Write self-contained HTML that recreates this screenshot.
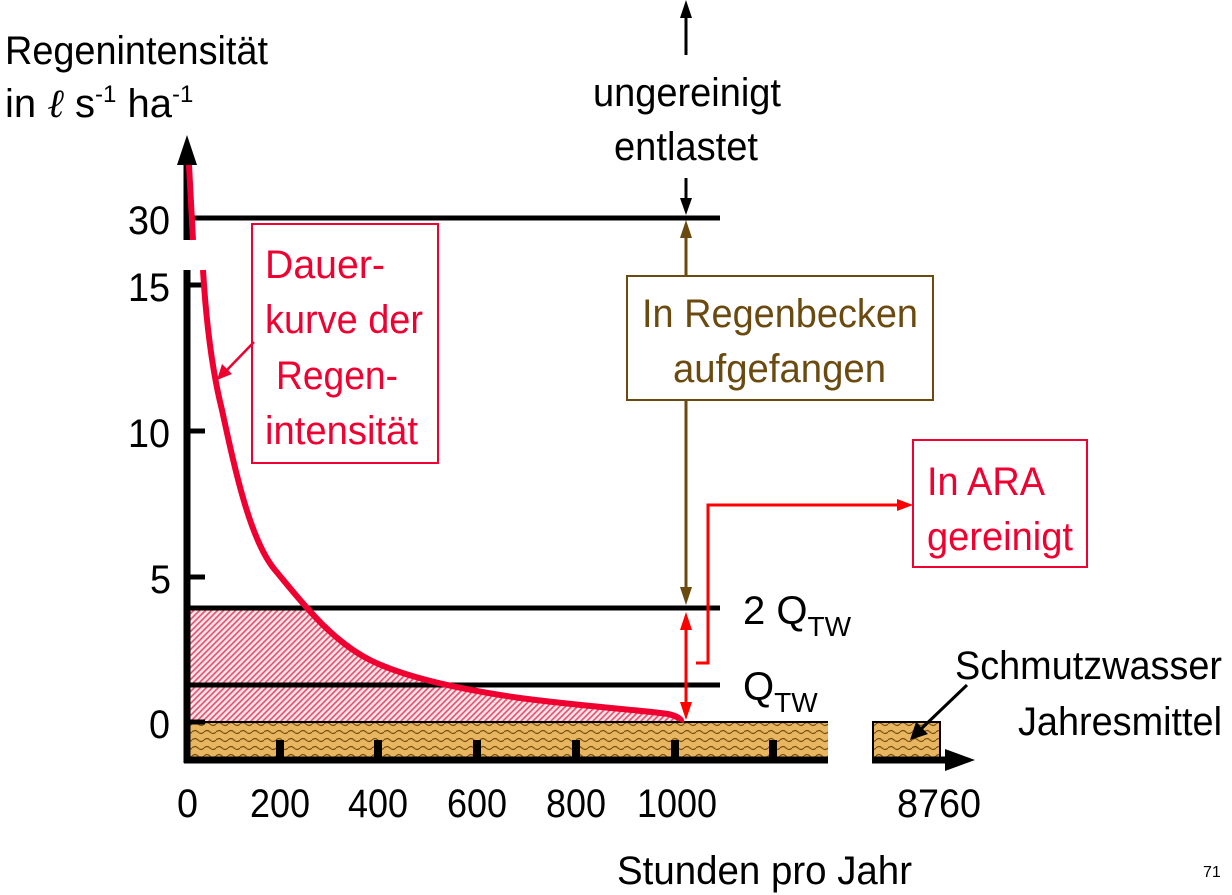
<!DOCTYPE html>
<html><head><meta charset="utf-8"><style>
html,body{margin:0;padding:0;background:#fff;}
svg{display:block;font-family:"Liberation Sans",sans-serif;}
</style></head><body>
<svg width="1232" height="895" viewBox="0 0 1232 895" xmlns="http://www.w3.org/2000/svg">
<defs>
<pattern id="red" width="6" height="6" patternUnits="userSpaceOnUse">
<rect width="6" height="6" fill="#fbe3e8"/>
<path d="M-1,7 L7,-1 M-4,4 L4,-4 M2,10 L10,2" stroke="#e8506e" stroke-width="1.6"/>
</pattern>
<pattern id="brown" width="12" height="8" patternUnits="userSpaceOnUse">
<rect width="12" height="8" fill="#e8b560"/>
<path d="M0,4 Q3,1 6,4 T12,4" stroke="#7a5010" stroke-width="1.2" fill="none"/>
</pattern>
<clipPath id="under">
<path d="M187,165 L189,165 L193,240 L203,270 C206,320 212,370 222,410 C235,470 250,540 275,570 C300,600 330,640 370,660 C400,675 450,688 520,698 C580,706 640,710 668,714 C678,716 682,720 681,722 L187,722 Z"/>
</clipPath>
</defs>

<rect x="190" y="608" width="500" height="114" fill="url(#red)" clip-path="url(#under)"/>
<rect x="190" y="722" width="638" height="38" fill="url(#brown)"/>
<line x1="190" y1="722" x2="828" y2="722" stroke="#000" stroke-width="2"/>
<rect x="873" y="722" width="67" height="38" fill="url(#brown)" stroke="#000" stroke-width="2"/>
<g fill="#000">
<rect x="276" y="740" width="8" height="20"/><rect x="374" y="740" width="8" height="20"/>
<rect x="473" y="740" width="8" height="20"/><rect x="572" y="740" width="8" height="20"/>
<rect x="671" y="740" width="8" height="20"/><rect x="769" y="740" width="8" height="20"/>
</g>
<g stroke="#000" stroke-width="5">
<line x1="187" y1="218" x2="720" y2="218"/>
<line x1="187" y1="608" x2="720" y2="608"/>
<line x1="187" y1="685" x2="720" y2="685"/>
<line x1="184" y1="760" x2="828" y2="760" stroke-width="7"/>
<line x1="872" y1="760" x2="950" y2="760" stroke-width="7"/>
<line x1="187" y1="160" x2="187" y2="240" stroke-width="7"/>
<line x1="187" y1="270" x2="187" y2="763" stroke-width="7"/>
<line x1="187" y1="285" x2="205" y2="285"/>
<line x1="187" y1="431" x2="205" y2="431"/>
<line x1="187" y1="577" x2="205" y2="577"/>
<line x1="187" y1="722" x2="205" y2="722"/>
</g>
<path d="M187,135 L177,165 L197,165 Z" fill="#000"/>
<path d="M975,760 L945,749 L945,771 Z" fill="#000"/>
<path d="M189,165 L193,240" stroke="#f00030" stroke-width="6" fill="none"/>
<path d="M203,270 C206,320 212,370 222,410 C235,470 250,540 275,570 C300,600 330,640 370,660 C400,675 450,688 520,698 C580,706 640,710 668,714 C678,716 682,720 681,722" stroke="#f00030" stroke-width="6" fill="none"/>
<g font-size="40" fill="#000" lengthAdjust="spacingAndGlyphs">
<text x="128" y="234" textLength="42" lengthAdjust="spacingAndGlyphs">30</text>
<text x="128" y="301" textLength="42" lengthAdjust="spacingAndGlyphs">15</text>
<text x="128" y="447" textLength="42" lengthAdjust="spacingAndGlyphs">10</text>
<text x="150" y="593" textLength="21" lengthAdjust="spacingAndGlyphs">5</text>
<text x="149" y="738" textLength="21" lengthAdjust="spacingAndGlyphs">0</text>
<text x="177" y="817" textLength="21" lengthAdjust="spacingAndGlyphs">0</text>
<text x="250" y="817" textLength="60" lengthAdjust="spacingAndGlyphs">200</text>
<text x="348" y="817" textLength="60" lengthAdjust="spacingAndGlyphs">400</text>
<text x="447" y="817" textLength="60" lengthAdjust="spacingAndGlyphs">600</text>
<text x="546" y="817" textLength="60" lengthAdjust="spacingAndGlyphs">800</text>
<text x="637" y="817" textLength="80" lengthAdjust="spacingAndGlyphs">1000</text>
<text x="897" y="817" textLength="84" lengthAdjust="spacingAndGlyphs">8760</text>
<text x="617" y="884" textLength="295" lengthAdjust="spacingAndGlyphs">Stunden pro Jahr</text>
<text x="5" y="64" textLength="263" lengthAdjust="spacingAndGlyphs">Regenintensität</text>
<text x="593" y="106" textLength="188" lengthAdjust="spacingAndGlyphs">ungereinigt</text>
<text x="614" y="160" textLength="144" lengthAdjust="spacingAndGlyphs">entlastet</text>
<text x="955" y="679" textLength="267" lengthAdjust="spacingAndGlyphs">Schmutzwasser</text>
<text x="1018" y="735" textLength="204" lengthAdjust="spacingAndGlyphs">Jahresmittel</text>
</g>
<text x="1203" y="877" font-size="16">71</text>
<text x="5" y="117" font-size="40">in <tspan font-family="Liberation Serif" font-style="italic">ℓ</tspan> s<tspan font-size="24" dy="-15">-1</tspan><tspan dy="15"> ha</tspan><tspan font-size="24" dy="-15">-1</tspan></text>
<line x1="686" y1="8" x2="686" y2="55" stroke="#000" stroke-width="3"/>
<path d="M686,0 L680,18 L692,18 Z" fill="#000"/>
<line x1="686" y1="178" x2="686" y2="205" stroke="#000" stroke-width="3"/>
<path d="M686,215 L680,198 L692,198 Z" fill="#000"/>
<line x1="686" y1="235" x2="686" y2="592" stroke="#6b4a10" stroke-width="3"/>
<path d="M686,220 L680,238 L692,238 Z" fill="#6b4a10"/>
<path d="M686,605 L680,587 L692,587 Z" fill="#6b4a10"/>
<rect x="627" y="276" width="306" height="124" fill="#fff" stroke="#6b4a10" stroke-width="2"/>
<g font-size="40" fill="#6b4a10">
<text x="642" y="327" textLength="276" lengthAdjust="spacingAndGlyphs">In Regenbecken</text>
<text x="673" y="382" textLength="213" lengthAdjust="spacingAndGlyphs">aufgefangen</text>
</g>
<line x1="686" y1="625" x2="686" y2="705" stroke="#f00" stroke-width="3"/>
<path d="M686,612 L680,630 L692,630 Z" fill="#f00"/>
<path d="M686,720 L680,702 L692,702 Z" fill="#f00"/>
<path d="M696,663 L708,663 L708,505 L900,505" stroke="#f00" stroke-width="3" fill="none"/>
<path d="M913,505 L897,499 L897,511 Z" fill="#f00"/>
<rect x="913" y="440" width="174" height="127" fill="#fff" stroke="#f00030" stroke-width="2"/>
<g font-size="40" fill="#f00030">
<text x="927" y="495" textLength="118" lengthAdjust="spacingAndGlyphs">In ARA</text>
<text x="927" y="550" textLength="146" lengthAdjust="spacingAndGlyphs">gereinigt</text>
</g>
<rect x="252" y="224" width="186" height="239" fill="#fff" stroke="#f00030" stroke-width="2"/>
<g font-size="40" fill="#f00030">
<text x="265" y="278" textLength="120" lengthAdjust="spacingAndGlyphs">Dauer-</text>
<text x="265" y="333" textLength="158" lengthAdjust="spacingAndGlyphs">kurve der</text>
<text x="276" y="389" textLength="122" lengthAdjust="spacingAndGlyphs">Regen-</text>
<text x="265" y="444" textLength="153" lengthAdjust="spacingAndGlyphs">intensität</text>
</g>
<line x1="254" y1="342" x2="225" y2="372" stroke="#f00030" stroke-width="2.5"/>
<path d="M217,380 L222,364 L232,374 Z" fill="#f00030"/>
<text x="743" y="624" font-size="40">2 Q<tspan font-size="28" dy="12">TW</tspan></text>
<text x="743" y="700" font-size="40">Q<tspan font-size="28" dy="12">TW</tspan></text>
<line x1="967" y1="685" x2="920" y2="730" stroke="#000" stroke-width="3"/>
<path d="M910,740 L916,722 L928,734 Z" fill="#000"/>
</svg>
</body></html>
